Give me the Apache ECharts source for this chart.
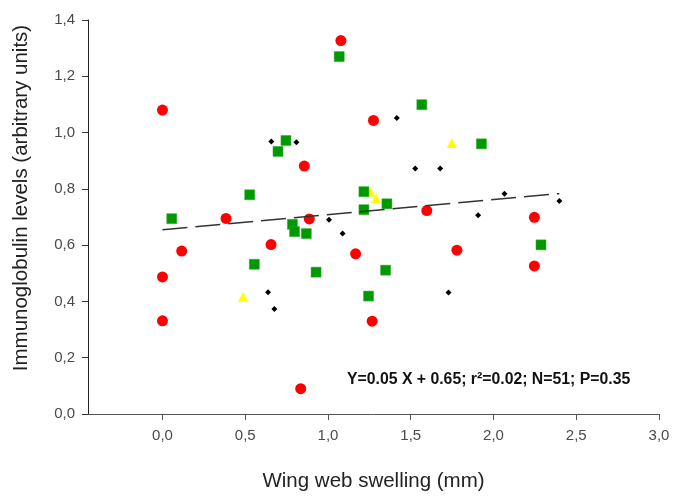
<!DOCTYPE html>
<html>
<head>
<meta charset="utf-8">
<script src="https://cdn.jsdelivr.net/npm/echarts@6/dist/echarts.min.js"></script>
<style>html,body{margin:0;padding:0;background:#fff}#c{width:673px;height:497px}</style>
</head>
<body>
<div id="c"></div>
<script>
// Data
var redX = [0.0, 0.0, 0.0, 0.116, 0.384, 0.656, 0.857, 0.887, 0.835, 1.078, 1.167, 1.275, 1.267, 1.597, 1.779, 2.247, 2.247];
var redY = [1.080, 0.487, 0.331, 0.579, 0.695, 0.602, 0.881, 0.693, 0.090, 1.327, 0.569, 1.043, 0.330, 0.723, 0.582, 0.699, 0.526];
var greenX = [1.068, 0.746, 0.698, 0.527, 1.217, 1.356, 1.217, 1.567, 1.927, 2.287, 1.348, 0.056, 0.785, 0.798, 0.869, 0.555, 0.928, 1.245];
var greenY = [1.270, 0.972, 0.933, 0.779, 0.790, 0.747, 0.726, 1.099, 0.960, 0.601, 0.511, 0.694, 0.674, 0.648, 0.641, 0.532, 0.504, 0.419];
var yellowX = [1.255, 1.291, 1.748, 0.487];
var yellowY = [0.791, 0.767, 0.963, 0.417];
var blackX = [0.658, 0.809, 1.416, 1.527, 1.678, 2.066, 2.398, 1.907, 1.728, 1.006, 1.088, 0.638, 0.676];
var blackY = [0.968, 0.966, 1.052, 0.872, 0.872, 0.783, 0.757, 0.706, 0.432, 0.690, 0.641, 0.433, 0.373];
var fitX = [0.0, 2.398];
var fitY = [0.655, 0.783];
var xTicks = [0, 0.5, 1.0, 1.5, 2.0, 2.5, 3.0];
var equation = 'Y=0.05 X + 0.65; r\u00b2=0.02; N=51; P=0.35';
var xTitle = 'Wing web swelling (mm)';
var yTitle = 'Immunoglobulin levels (arbitrary units)';

function pairs(xs, ys) { return xs.map(function (x, i) { return [x, ys[i]]; }); }
function comma(v) { return Number(v).toFixed(1).replace('.', ','); }

var FONT = '"Liberation Sans", Arial, sans-serif';
var chart = echarts.init(document.getElementById('c'), null, { renderer: 'canvas' });
chart.setOption({
  animation: false,
  backgroundColor: '#ffffff',
  grid: { left: 88, right: 14, top: 20, bottom: 77, containLabel: false },
  xAxis: {
    type: 'value', min: -0.45, max: 3.0,
    name: xTitle, nameLocation: 'middle', nameGap: 57,
    nameTextStyle: { fontFamily: FONT, fontSize: 20.5, color: '#222' },
    axisLine: { onZero: false, lineStyle: { color: '#555', width: 1 } },
    axisTick: { show: true, length: 6, customValues: xTicks, lineStyle: { color: '#555' } },
    axisLabel: { customValues: xTicks, formatter: comma, fontFamily: FONT, fontSize: 15, color: '#4a4a4a', margin: 14 },
    splitLine: { show: false }
  },
  yAxis: {
    type: 'value', min: 0, max: 1.4, interval: 0.2,
    axisLine: { show: true, onZero: false, lineStyle: { color: '#222', width: 1 } },
    axisTick: { show: true, length: 6, lineStyle: { color: '#333' } },
    axisLabel: { formatter: comma, fontFamily: FONT, fontSize: 15, color: '#4a4a4a', margin: 13 },
    splitLine: { show: false }
  },
  graphic: [{
    type: 'text', left: 347, top: 372,
    style: { text: equation, font: 'bold 15.8px ' + FONT, fill: '#111' }
  }, {
    type: 'text', x: 21, y: 198, rotation: Math.PI / 2,
    style: { text: yTitle, font: '20.5px ' + FONT, fill: '#222', align: 'center', verticalAlign: 'middle' }
  }],
  series: [
    { name: 'yellow', type: 'scatter', data: pairs(yellowX, yellowY), symbol: 'triangle', symbolSize: 10,
      itemStyle: { color: '#ffff00', opacity: 1 }, z: 2 },
    { name: 'green', type: 'scatter', data: pairs(greenX, greenY), symbol: 'rect', symbolSize: 10,
      itemStyle: { color: '#009900', borderColor: '#2fa82f', borderWidth: 0.5, opacity: 1 }, z: 3 },
    { name: 'red', type: 'scatter', data: pairs(redX, redY), symbol: 'circle', symbolSize: 11,
      itemStyle: { color: '#ff0000', opacity: 1 }, z: 4 },
    { name: 'black', type: 'scatter', data: pairs(blackX, blackY), symbol: 'diamond', symbolSize: 6,
      itemStyle: { color: '#000000', opacity: 1 }, z: 5 },
    { name: 'fit', type: 'line', data: pairs(fitX, fitY), symbol: 'none',
      lineStyle: { color: '#333', width: 1.5, type: [25, 8] }, z: 6 }
  ]
});
</script>
</body>
</html>
